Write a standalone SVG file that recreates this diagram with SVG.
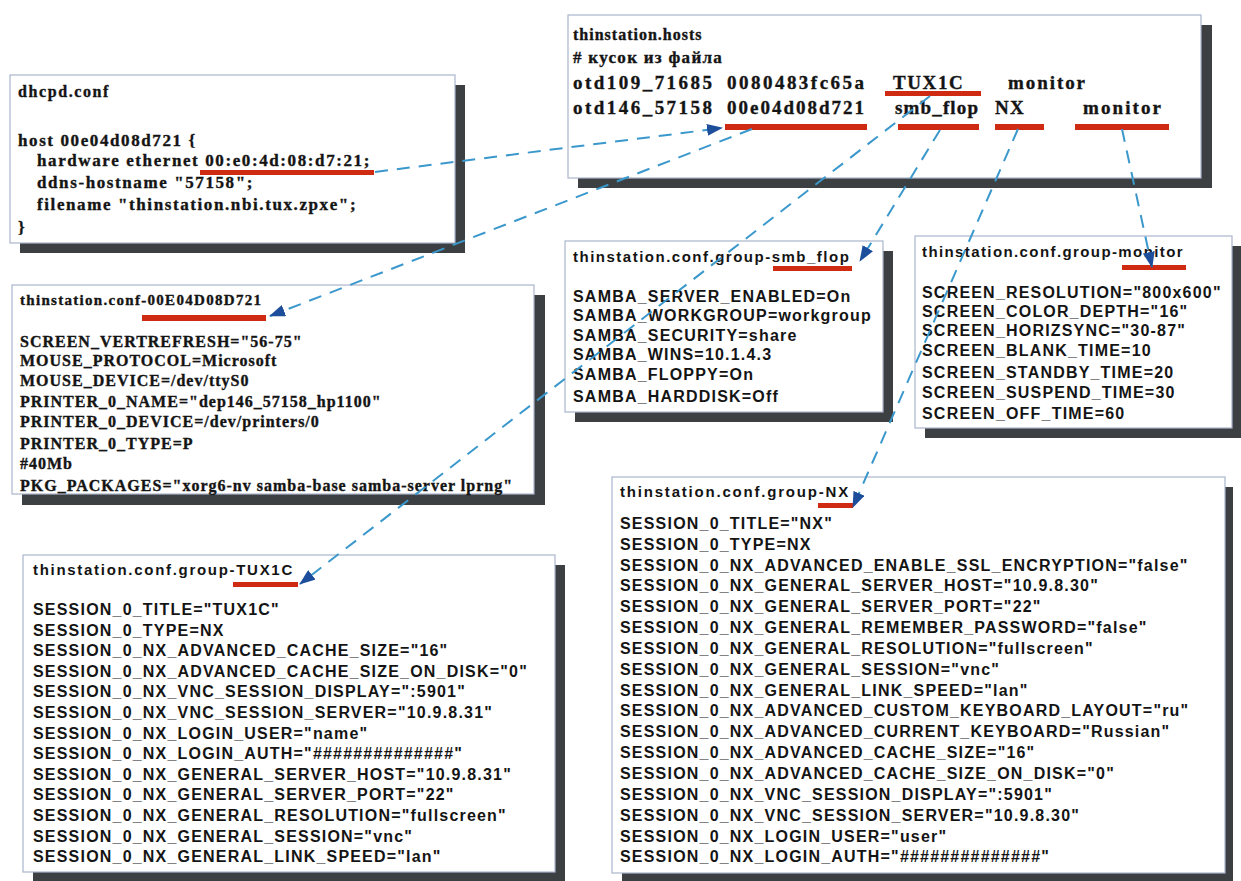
<svg xmlns="http://www.w3.org/2000/svg" width="1241" height="881" viewBox="0 0 1241 881">
<style>
.bg{fill:#ffffff}
.box{fill:#ffffff;stroke:#aab5cc;stroke-width:1.2}
.sh{fill:#3c4043}
.serif{font-family:"Liberation Serif","Times New Roman",serif;font-weight:bold;fill:#141414;stroke:#141414;stroke-width:0.35}
.sans{font-family:"Liberation Sans",Arial,sans-serif;font-weight:bold;fill:#141414}
.t15{font-size:15px;letter-spacing:1.5px}
.s16{font-size:16px;letter-spacing:1.2px}
.r16{font-size:16px;letter-spacing:1.0px}
.r17{font-size:17px;letter-spacing:1.6px}
.r19{font-size:19px}
.ul{fill:#cf2a12}
.conn{stroke:#3b98cc;stroke-width:2;stroke-dasharray:13 9;fill:none}
</style>
<defs>
<marker id="arr" markerUnits="userSpaceOnUse" markerWidth="16" markerHeight="12" refX="15" refY="6" orient="auto">
<path d="M0,0 L16,6 L0,12 z" fill="#1d4e9b"/>
</marker>
</defs>
<rect class="bg" width="1241" height="881"/>

<g id="dhcpd">
<rect class="sh" x="20" y="85" width="445" height="168"/>
<rect class="box" x="10" y="75" width="445" height="168"/>
<text class="serif" x="18" y="97" style="font-size:16px;letter-spacing:1.6px">dhcpd.conf</text>
<text class="serif r17" x="18" y="146">host 00e04d08d721 {</text>
<text class="serif r17" x="37" y="166">hardware ethernet 00:e0:4d:08:d7:21;</text>
<text class="serif r17" x="37" y="188">ddns-hostname "57158";</text>
<text class="serif r17" x="37" y="210">filename "thinstation.nbi.tux.zpxe";</text>
<text class="serif r17" x="18" y="233">}</text>
<rect class="ul" x="200" y="170" width="174" height="5"/>
</g>

<g id="hosts">
<rect class="sh" x="578" y="25" width="634" height="163"/>
<rect class="box" x="568" y="15" width="633" height="163"/>
<text class="serif" x="573" y="40" style="font-size:16px;letter-spacing:1.0px">thinstation.hosts</text>
<text class="serif" x="573" y="63" style="font-size:17px;letter-spacing:1.3px"># кусок из файла</text>
<text class="serif r19" y="89"><tspan x="573" textLength="139" lengthAdjust="spacing">otd109_71685</tspan><tspan x="727" textLength="137" lengthAdjust="spacing">0080483fc65a</tspan><tspan x="893" style="letter-spacing:1.6px">TUX1C</tspan><tspan x="1008" textLength="77" lengthAdjust="spacing">monitor</tspan></text>
<text class="serif r19" y="114"><tspan x="573" textLength="139" lengthAdjust="spacing">otd146_57158</tspan><tspan x="727" textLength="137" lengthAdjust="spacing">00e04d08d721</tspan><tspan x="895" textLength="83" lengthAdjust="spacing">smb_flop</tspan><tspan x="995" style="letter-spacing:1.2px">NX</tspan><tspan x="1083" textLength="78" lengthAdjust="spacing">monitor</tspan></text>
<rect class="ul" x="885" y="91" width="96" height="5"/>
<rect class="ul" x="725" y="124" width="142" height="6"/>
<rect class="ul" x="898" y="124" width="81" height="6"/>
<rect class="ul" x="995" y="124" width="49" height="6"/>
<rect class="ul" x="1075" y="124" width="94" height="6"/>
</g>

<g id="conf-mac">
<rect class="sh" x="22" y="295" width="523" height="210"/>
<rect class="box" x="12" y="285" width="522" height="209"/>
<text class="serif" x="20" y="305" style="font-size:15px;letter-spacing:1.3px">thinstation.conf-00E04D08D721</text>
<rect class="ul" x="142" y="315" width="124" height="6"/>
<text class="serif r16"><tspan x="20" y="347">SCREEN_VERTREFRESH="56-75"</tspan><tspan x="20" y="366">MOUSE_PROTOCOL=Microsoft</tspan><tspan x="20" y="386">MOUSE_DEVICE=/dev/ttyS0</tspan><tspan x="20" y="407">PRINTER_0_NAME="dep146_57158_hp1100"</tspan><tspan x="20" y="427">PRINTER_0_DEVICE=/dev/printers/0</tspan><tspan x="20" y="449">PRINTER_0_TYPE=P</tspan><tspan x="20" y="469">#40Mb</tspan><tspan x="20" y="491">PKG_PACKAGES="xorg6-nv samba-base samba-server lprng"</tspan></text>
</g>

<g id="group-smb_flop">
<rect class="sh" x="575" y="251" width="318" height="171"/>
<rect class="box" x="565" y="241" width="318" height="171"/>
<text class="sans t15" x="573" y="262">thinstation.conf.group-smb_flop</text>
<rect class="ul" x="773" y="266" width="79" height="5"/>
<text class="sans s16"><tspan x="573" y="302">SAMBA_SERVER_ENABLED=On</tspan><tspan x="573" y="321">SAMBA_WORKGROUP=workgroup</tspan><tspan x="573" y="341">SAMBA_SECURITY=share</tspan><tspan x="573" y="360">SAMBA_WINS=10.1.4.3</tspan><tspan x="573" y="380">SAMBA_FLOPPY=On</tspan><tspan x="573" y="402">SAMBA_HARDDISK=Off</tspan></text>
</g>

<g id="group-monitor">
<rect class="sh" x="925" y="246" width="316" height="192"/>
<rect class="box" x="915" y="236" width="317" height="192"/>
<text class="sans t15" x="922" y="257" style="letter-spacing:1.4px">thinstation.conf.group-monitor</text>
<rect class="ul" x="1122" y="265" width="64" height="5"/>
<text class="sans s16"><tspan x="922" y="298">SCREEN_RESOLUTION="800x600"</tspan><tspan x="922" y="317">SCREEN_COLOR_DEPTH="16"</tspan><tspan x="922" y="336">SCREEN_HORIZSYNC="30-87"</tspan><tspan x="922" y="356">SCREEN_BLANK_TIME=10</tspan><tspan x="922" y="378">SCREEN_STANDBY_TIME=20</tspan><tspan x="922" y="398">SCREEN_SUSPEND_TIME=30</tspan><tspan x="922" y="419">SCREEN_OFF_TIME=60</tspan></text>
</g>

<g id="group-nx">
<rect class="sh" x="622" y="487" width="611" height="394"/>
<rect class="box" x="612" y="477" width="613" height="396"/>
<text class="sans t15" x="620" y="497" style="letter-spacing:1.8px">thinstation.conf.group-NX</text>
<rect class="ul" x="818" y="503" width="35" height="5"/>
<text class="sans s16"><tspan x="620" y="529">SESSION_0_TITLE="NX"</tspan><tspan x="620" y="550">SESSION_0_TYPE=NX</tspan><tspan x="620" y="571">SESSION_0_NX_ADVANCED_ENABLE_SSL_ENCRYPTION="false"</tspan><tspan x="620" y="591">SESSION_0_NX_GENERAL_SERVER_HOST="10.9.8.30"</tspan><tspan x="620" y="612">SESSION_0_NX_GENERAL_SERVER_PORT="22"</tspan><tspan x="620" y="633">SESSION_0_NX_GENERAL_REMEMBER_PASSWORD="false"</tspan><tspan x="620" y="654">SESSION_0_NX_GENERAL_RESOLUTION="fullscreen"</tspan><tspan x="620" y="675">SESSION_0_NX_GENERAL_SESSION="vnc"</tspan><tspan x="620" y="696">SESSION_0_NX_GENERAL_LINK_SPEED="lan"</tspan><tspan x="620" y="716">SESSION_0_NX_ADVANCED_CUSTOM_KEYBOARD_LAYOUT="ru"</tspan><tspan x="620" y="737">SESSION_0_NX_ADVANCED_CURRENT_KEYBOARD="Russian"</tspan><tspan x="620" y="758">SESSION_0_NX_ADVANCED_CACHE_SIZE="16"</tspan><tspan x="620" y="779">SESSION_0_NX_ADVANCED_CACHE_SIZE_ON_DISK="0"</tspan><tspan x="620" y="800">SESSION_0_NX_VNC_SESSION_DISPLAY=":5901"</tspan><tspan x="620" y="821">SESSION_0_NX_VNC_SESSION_SERVER="10.9.8.30"</tspan><tspan x="620" y="842">SESSION_0_NX_LOGIN_USER="user"</tspan><tspan x="620" y="862">SESSION_0_NX_LOGIN_AUTH="##############"</tspan></text>
</g>

<g id="group-tux1c">
<rect class="sh" x="33" y="565" width="532" height="316"/>
<rect class="box" x="23" y="555" width="532" height="317"/>
<text class="sans t15" x="33" y="575" style="letter-spacing:1.7px">thinstation.conf.group-TUX1C</text>
<rect class="ul" x="233" y="582" width="65" height="5"/>
<text class="sans s16"><tspan x="33" y="615">SESSION_0_TITLE="TUX1C"</tspan><tspan x="33" y="636">SESSION_0_TYPE=NX</tspan><tspan x="33" y="656">SESSION_0_NX_ADVANCED_CACHE_SIZE="16"</tspan><tspan x="33" y="677">SESSION_0_NX_ADVANCED_CACHE_SIZE_ON_DISK="0"</tspan><tspan x="33" y="697">SESSION_0_NX_VNC_SESSION_DISPLAY=":5901"</tspan><tspan x="33" y="718">SESSION_0_NX_VNC_SESSION_SERVER="10.9.8.31"</tspan><tspan x="33" y="739">SESSION_0_NX_LOGIN_USER="name"</tspan><tspan x="33" y="759">SESSION_0_NX_LOGIN_AUTH="##############"</tspan><tspan x="33" y="780">SESSION_0_NX_GENERAL_SERVER_HOST="10.9.8.31"</tspan><tspan x="33" y="800">SESSION_0_NX_GENERAL_SERVER_PORT="22"</tspan><tspan x="33" y="821">SESSION_0_NX_GENERAL_RESOLUTION="fullscreen"</tspan><tspan x="33" y="842">SESSION_0_NX_GENERAL_SESSION="vnc"</tspan><tspan x="33" y="862">SESSION_0_NX_GENERAL_LINK_SPEED="lan"</tspan></text>
</g>

<g id="connectors">
<path class="conn" d="M375,172 L722,128" marker-end="url(#arr)"/>
<path class="conn" d="M752,129 L270,316" marker-end="url(#arr)"/>
<path class="conn" d="M930,96 L300,584" marker-end="url(#arr)"/>
<path class="conn" d="M940,130 L860,261" marker-end="url(#arr)"/>
<path class="conn" d="M1018,129 L853,507" marker-end="url(#arr)"/>
<path class="conn" d="M1122,129 L1152,267" marker-end="url(#arr)"/>
</g>
</svg>
